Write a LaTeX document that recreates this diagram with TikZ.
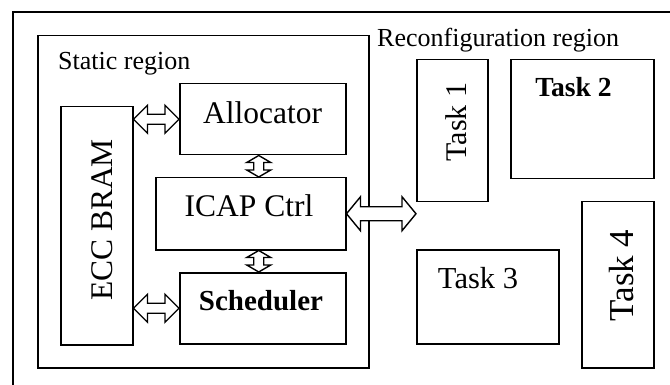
\documentclass[tikz,border=0pt]{standalone}
\usepackage{fontspec}
\setmainfont{Liberation Serif}
\usetikzlibrary{calc}

\tikzset{
  blk/.style={draw, line width=1.5pt, inner sep=0pt, anchor=north west},
  dblarrow/.style={draw, line width=1.4pt, fill=white, line join=miter},
  lbl/.style={inner sep=0pt, anchor=base},
  fsmall/.style={font=\fontsize{26}{26}\selectfont},
  fbig/.style={font=\fontsize{31.5}{31.5}\selectfont},
}

% hollow double arrow, horizontal: #1 left end, #2 right end,
% #3 half shaft width, #4 half head width, #5 head length (pt)
\newcommand\hdblarrow[5]{%
  \draw[dblarrow] let \p1=(#1), \p2=(#2) in
    (\x1,\y1) -- (\x1+#5pt,\y1+#4pt) -- (\x1+#5pt,\y1+#3pt) -- (\x2-#5pt,\y1+#3pt)
    -- (\x2-#5pt,\y1+#4pt) -- (\x2,\y1) -- (\x2-#5pt,\y1-#4pt) -- (\x2-#5pt,\y1-#3pt)
    -- (\x1+#5pt,\y1-#3pt) -- (\x1+#5pt,\y1-#4pt) -- cycle;}
% hollow double arrow, vertical: #1 upper end, #2 lower end
\newcommand\vdblarrow[5]{%
  \draw[dblarrow] let \p1=(#1), \p2=(#2) in
    (\x1,\y1) -- (\x1+#4pt,\y1-#5pt) -- (\x1+#3pt,\y1-#5pt) -- (\x1+#3pt,\y2+#5pt)
    -- (\x1+#4pt,\y2+#5pt) -- (\x1,\y2) -- (\x1-#4pt,\y2+#5pt) -- (\x1-#3pt,\y2+#5pt)
    -- (\x1-#3pt,\y1-#5pt) -- (\x1-#4pt,\y1-#5pt) -- cycle;}

\begin{document}
\begin{tikzpicture}[x=1pt,y=-1pt]
\useasboundingbox (0,0) rectangle (670,385);
\clip (0,0) rectangle (670,385);

% outer frame (runs past the page on the right and bottom)
\draw[line width=1.6pt] (13,12) rectangle (700,410);

% static region
\node[blk, minimum width=331pt, minimum height=332pt] (static) at (37,35) {};
\node[lbl, fsmall, anchor=base west] (statict) at (58,70) {Static region};

\node[blk, minimum width=166pt, minimum height=71pt] (alloc) at (179,83) {};
\node[blk, minimum width=72pt, minimum height=238pt] (ecc) at (60,106) {};
\node[blk, minimum width=190pt, minimum height=72pt] (icap) at (155,177) {};
\node[blk, minimum width=166pt, minimum height=71pt] (sched) at (179,272) {};

\node[lbl, fbig] (alloct) at (262.5,124) {Allocator};
\node[lbl, fbig] (icapt) at (249,217) {ICAP Ctrl};
\node[lbl, font=\fontsize{29}{29}\selectfont\bfseries] (schedt) at (261,310) {Scheduler};
\node[lbl, fbig, rotate=90] (ecct) at (112,220) {ECC BRAM};

% reconfiguration region
\node[lbl, fsmall, anchor=base west] (recont) at (377,47) {Reconfiguration region};

\node[blk, minimum width=71pt, minimum height=142pt] (task1) at (416,59) {};
\node[blk, minimum width=143pt, minimum height=119pt] (task2) at (510,59) {};
\node[blk, minimum width=142pt, minimum height=94pt] (task3) at (416,249) {};
\node[blk, minimum width=72pt, minimum height=166pt] (task4) at (581,201) {};

\node[lbl, font=\fontsize{30}{30}\selectfont, rotate=90] (task1t) at (466,122) {Task 1};
\node[lbl, font=\fontsize{27.6}{27.6}\selectfont\bfseries] (task2t) at (573.5,97) {Task 2};
\node[lbl, font=\fontsize{30.5}{30.5}\selectfont] (task3t) at (478,288) {Task 3};
\node[lbl, font=\fontsize{35}{35}\selectfont, rotate=90] (task4t) at (633,275.5) {Task 4};

% connectors
\coordinate (rin) at (task1.west |- icap.east);
\coordinate (atop) at ($(alloc.south)+(-4,0)$);
\coordinate (sbot) at ($(sched.north)+(-4,0)$);
\hdblarrow{ecc.east |- alloc.west}{alloc.west}{5}{14}{14}
\hdblarrow{ecc.east |- sched.west}{sched.west}{5}{14}{14}
\vdblarrow{atop}{icap.north -| atop}{5}{12}{7}
\vdblarrow{icap.south -| sbot}{sbot}{5}{12}{7}
\hdblarrow{icap.east}{rin}{7}{17}{14}
\end{tikzpicture}
\end{document}
